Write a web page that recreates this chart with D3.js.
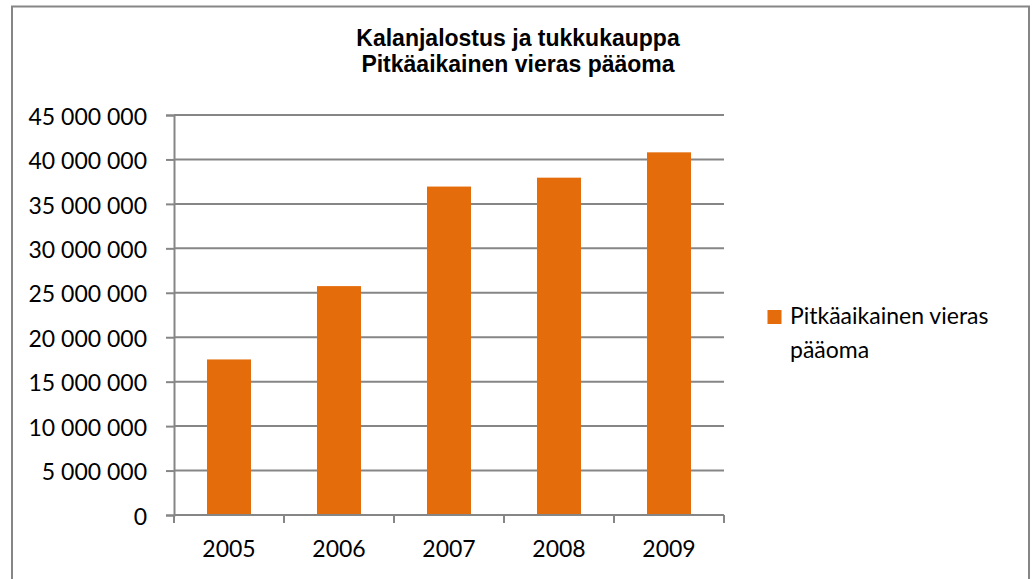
<!DOCTYPE html>
<html>
<head>
<meta charset="utf-8">
<script src="https://cdn.jsdelivr.net/npm/d3@7"></script>
<style>
  body { margin: 0; background: #fff; }
  svg { display: block; }
</style>
</head>
<body>
<svg id="chart"></svg>
<script>
const TITLE_LINES = ["Kalanjalostus ja tukkukauppa", "Pitkäaikainen vieras pääoma"];
const YEARS = ["2005", "2006", "2007", "2008", "2009"];
const VALUES = [17500000, 25750000, 36950000, 37950000, 40800000];
const Y_TICKS = [0, 5000000, 10000000, 15000000, 20000000, 25000000, 30000000, 35000000, 40000000, 45000000];
const LEGEND_LINES = ["Pitkäaikainen vieras", "pääoma"];

const width = 1035;
const height = 579;
const BAR_COLOR = "#e46c0a";
const GRID_COLOR = "#868686";
const LABEL_FONT = "Lato, 'Open Sans', sans-serif";
const LABEL_SIZE = 23;

const plot = { left: 174, right: 724, top: 115, bottom: 515 };

const svg = d3.select("#chart").attr("width", width).attr("height", height);

// outer frame (runs past the bottom edge, as in the source)
svg.append("rect")
   .attr("x", 12).attr("y", 6.5)
   .attr("width", 1017).attr("height", 600)
   .attr("fill", "#fff")
   .attr("stroke", GRID_COLOR)
   .attr("stroke-width", 2);

// title
svg.append("g")
   .selectAll("text")
   .data(TITLE_LINES)
   .enter()
   .append("text")
   .attr("x", 518)
   .attr("y", (d, i) => 46 + i * 26)
   .attr("text-anchor", "middle")
   .attr("font-family", "'Liberation Sans', Arial, sans-serif")
   .attr("font-weight", "bold")
   .attr("font-size", 23)
   .text(d => d);

const x = d3.scaleBand().domain(YEARS).range([plot.left, plot.right]).paddingInner(0.6).paddingOuter(0.3);
const xTicks = d3.scaleBand().domain(YEARS).range([plot.left, plot.right]);
const y = d3.scaleLinear().domain([0, 45000000]).range([plot.bottom, plot.top]);

const fmt = v => d3.format(",")(v).replace(/,/g, " ");

// gridlines
svg.append("g")
   .selectAll("line")
   .data(Y_TICKS.filter(d => d > 0))
   .enter()
   .append("line")
   .attr("x1", plot.left).attr("x2", plot.right)
   .attr("y1", d => y(d)).attr("y2", d => y(d))
   .attr("stroke", GRID_COLOR)
   .attr("stroke-width", 2);

// bars
svg.append("g")
   .selectAll("rect")
   .data(VALUES)
   .enter()
   .append("rect")
   .attr("x", (d, i) => x(YEARS[i]))
   .attr("y", d => y(d))
   .attr("width", x.bandwidth())
   .attr("height", d => y(0) - y(d))
   .attr("fill", BAR_COLOR);

// y axis
const yAxis = d3.axisLeft(y).tickValues(Y_TICKS).tickFormat(fmt).tickSize(8).tickPadding(19);
const yg = svg.append("g")
   .attr("transform", `translate(${plot.left},0)`)
   .call(yAxis);
yg.select(".domain").attr("stroke", GRID_COLOR).attr("stroke-width", 2);
yg.selectAll(".tick line").attr("stroke", GRID_COLOR).attr("stroke-width", 2);
yg.selectAll(".tick text")
   .attr("dy", "0.4em")
   .attr("font-family", LABEL_FONT)
   .attr("font-size", LABEL_SIZE)
   .attr("fill", "#000");

// x axis: ticks on category boundaries
const xg = svg.append("g").attr("transform", `translate(0,${plot.bottom})`);
xg.append("line")
   .attr("x1", plot.left).attr("x2", plot.right)
   .attr("stroke", GRID_COLOR).attr("stroke-width", 2);
xg.selectAll("line.tk")
   .data(YEARS.map(d => xTicks(d)).concat([plot.right]))
   .enter()
   .append("line")
   .attr("class", "tk")
   .attr("x1", d => d).attr("x2", d => d)
   .attr("y1", 0).attr("y2", 8)
   .attr("stroke", GRID_COLOR).attr("stroke-width", 2);
xg.selectAll("text")
   .data(YEARS)
   .enter()
   .append("text")
   .attr("x", d => xTicks(d) + xTicks.bandwidth() / 2)
   .attr("y", 42)
   .attr("text-anchor", "middle")
   .attr("font-family", LABEL_FONT)
   .attr("font-size", LABEL_SIZE)
   .text(d => d);

// legend
const legend = svg.append("g").attr("transform", "translate(767.5,310)");
legend.append("rect")
   .attr("width", 14).attr("height", 14)
   .attr("fill", BAR_COLOR);
legend.selectAll("text")
   .data(LEGEND_LINES)
   .enter()
   .append("text")
   .attr("x", 22.5)
   .attr("y", (d, i) => 14 + i * 34)
   .attr("font-family", LABEL_FONT)
   .attr("font-size", LABEL_SIZE)
   .text(d => d);
</script>
</body>
</html>
